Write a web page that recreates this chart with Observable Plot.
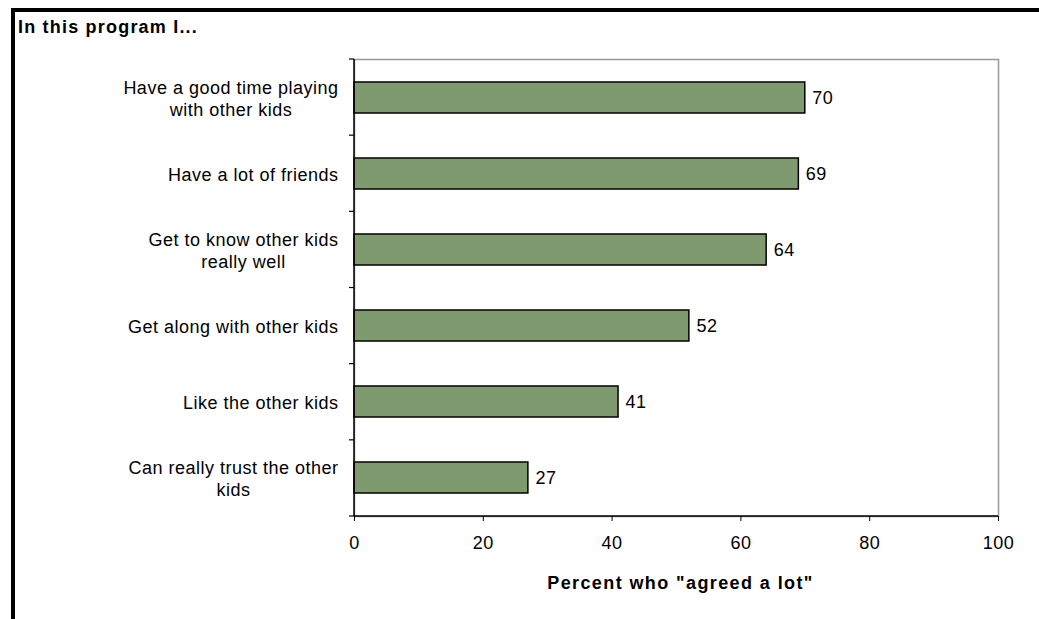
<!DOCTYPE html>
<html>
<head>
<meta charset="utf-8">
<script src="https://cdn.jsdelivr.net/npm/d3@7"></script>
<script src="https://cdn.jsdelivr.net/npm/@observablehq/plot@0.6"></script>
<style>
  html, body { margin: 0; padding: 0; background: #fff; width: 1039px; height: 619px; overflow: hidden; }
  #frame { position: absolute; left: 11px; top: 8px; width: 1040px; height: 620px; border-top: 4px solid #000; border-left: 4px solid #000; }
  #title { position: absolute; left: 18px; top: 17px; font-family: "Liberation Sans", Arial, sans-serif; font-weight: bold; font-size: 18px; letter-spacing: 1.2px; color: #000; }
  #chart { position: absolute; left: 0; top: 40px; }
</style>
</head>
<body>
<div id="frame"></div>
<div id="title">In this program I...</div>
<div id="chart"></div>
<script>
const categories = [
  "Have a good time playing\nwith other kids",
  "Have a lot of friends",
  "Get to know other kids\nreally well",
  "Get along with other kids",
  "Like the other kids",
  "Can really trust the other\nkids"
];
const values = [70, 69, 64, 52, 41, 27];
const xTicks = [0, 20, 40, 60, 80, 100];
const xLabel = 'Percent who "agreed a lot"';

const data = categories.map((c, i) => ({label: c, value: values[i]}));

const W = 1039, H = 579;
const M = {top: 19, right: 41, bottom: 103, left: 354};
const padIn = 0.59;

function axisLines(index, scales, vals, dims) {
  const g = d3.create("svg:g");
  const x0 = dims.marginLeft;
  const x1 = dims.width - dims.marginRight;
  const y0 = dims.marginTop;
  const y1 = dims.height - dims.marginBottom;
  const n = categories.length;
  const step = (y1 - y0) / n;
  for (let i = 0; i <= n; i++) {
    g.append("line").attr("x1", x0 - 5).attr("x2", x0).attr("y1", y0 + i * step).attr("y2", y0 + i * step)
      .attr("stroke", "#000").attr("stroke-width", 1.2);
  }
  g.append("line").attr("x1", x0).attr("x2", x0).attr("y1", y0).attr("y2", y1).attr("stroke", "#000").attr("stroke-width", 1.5);
  g.append("line").attr("x1", x0).attr("x2", x1).attr("y1", y1).attr("y2", y1).attr("stroke", "#000").attr("stroke-width", 1.5);
  return g.node();
}

const plot = Plot.plot({
  width: W, height: H,
  marginTop: M.top, marginRight: M.right, marginBottom: M.bottom, marginLeft: M.left,
  style: {fontFamily: '"Liberation Sans", Arial, sans-serif', fontSize: "18px", letterSpacing: "0.5px", color: "#000", background: "transparent"},
  x: {domain: [0, 100]},
  y: {domain: categories, paddingInner: padIn, paddingOuter: padIn / 2},
  marks: [
    Plot.frame({stroke: "#999", strokeWidth: 1.5}),
    Plot.barX(data, {x: "value", y: "label", fill: "#7E9A6E", stroke: "#000", strokeWidth: 1.5}),
    Plot.text(data, {x: "value", y: "label", text: d => String(d.value), dx: 7, textAnchor: "start", fontSize: 18, fill: "#000"}),
    Plot.axisX({ticks: xTicks, tickSize: 5, tickPadding: 15, fontSize: 18,
      label: xLabel, labelAnchor: "center", labelArrow: "none", labelOffset: 72}),
    Plot.axisY({tickSize: 0, tickPadding: 16, fontSize: 18, lineHeight: 1.22, label: null}),
    axisLines
  ]
});

document.getElementById("chart").appendChild(plot);

// style x label bold
plot.querySelectorAll('g[aria-label="x-axis label"] text').forEach(t => {
  t.setAttribute("font-weight", "bold");
  t.setAttribute("font-size", "18px");
  t.style.letterSpacing = "1.4px";
  const tr = t.getAttribute("transform") || "";
  t.setAttribute("transform", tr + " translate(4,0)");
});

// center multi-line category labels inside their block (block right-aligned)
plot.querySelectorAll('g[aria-label="y-axis tick label"] text').forEach(t => {
  const spans = t.querySelectorAll("tspan");
  if (spans.length > 1) {
    let maxW = 0;
    spans.forEach(s => { maxW = Math.max(maxW, s.getComputedTextLength()); });
    t.setAttribute("text-anchor", "middle");
    const tr = t.getAttribute("transform") || "";
    t.setAttribute("transform", tr + ` translate(${-maxW / 2},0)`);
  }
});
</script>
</body>
</html>
